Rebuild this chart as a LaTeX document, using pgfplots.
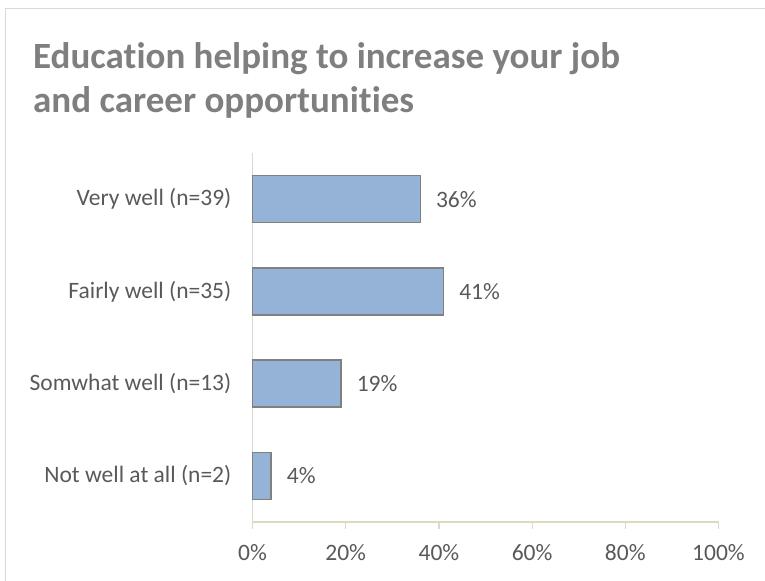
\documentclass[border=0pt]{standalone}
\usepackage{pgfplots}
\pgfplotsset{compat=1.18}
\usepackage{fontspec}
\setmainfont{Carlito}[Ligatures=CommonOff]
\definecolor{barfill}{HTML}{95B3D7}
\definecolor{barline}{HTML}{808080}
\definecolor{txt}{HTML}{595959}
\definecolor{ttl}{HTML}{7F7F7F}
\definecolor{frame}{HTML}{D9D9D9}
\definecolor{xaxis}{HTML}{DDD9C3}
\begin{document}
\begin{tikzpicture}
\useasboundingbox (0,0) rectangle (765bp,-581bp);
\draw[frame, line width=1.5bp] (5.5bp,-581bp) -- (5.5bp,-8.5bp) -- (765bp,-8.5bp);
\node[anchor=base west, inner sep=0pt, text=ttl, font=\fontsize{37bp}{44bp}\selectfont\bfseries] at (33bp,-68bp) {Education helping to increase your job};
\node[anchor=base west, inner sep=0pt, text=ttl, font=\fontsize{37bp}{44bp}\selectfont\bfseries] at (33bp,-112bp) {and career opportunities};
\begin{axis}[
  at={(252.5bp,-522bp)}, anchor=south west,
  scale only axis, width=466bp, height=369bp,
  xbar, bar width=47bp,
  xmin=0, xmax=100, ymin=-0.5, ymax=3.5,
  xtick={0,20,40,60,80,100},
  xticklabel={\pgfmathprintnumber{\tick}\%},
  /pgf/number format/assume math mode=true,
  ytick={0,1,2,3},
  yticklabels={Not well at all (n=2),Somwhat well (n=13),Fairly well (n=35),Very well (n=39)},
  axis x line*=bottom, axis y line*=left,
  x axis line style={xaxis, line width=1.2bp, -},
  y axis line style={frame, line width=1.2bp, -},
  xtick style={xaxis, line width=1.2bp},
  xtick pos=bottom, major tick length=7bp,
  ytick style={draw=none},
  tick align=outside,
  ticklabel style={text=txt, font=\fontsize{23.5bp}{28bp}\selectfont},
  xticklabel style={anchor=north, inner sep=0pt, yshift=-15bp},
  yticklabel style={anchor=east, inner sep=0pt, xshift=-14bp},
  nodes near coords={\pgfmathprintnumber{\pgfplotspointmeta}\%},
  nodes near coords style={text=txt, font=\fontsize{23.5bp}{28bp}\selectfont, anchor=west, inner sep=0pt, xshift=15bp},
  point meta=x,
  clip=false,
]
\addplot[fill=barfill, draw=barline, line width=1.5bp] coordinates {(4,0) (19,1) (41,2) (36,3)};
\end{axis}
\end{tikzpicture}
\end{document}
